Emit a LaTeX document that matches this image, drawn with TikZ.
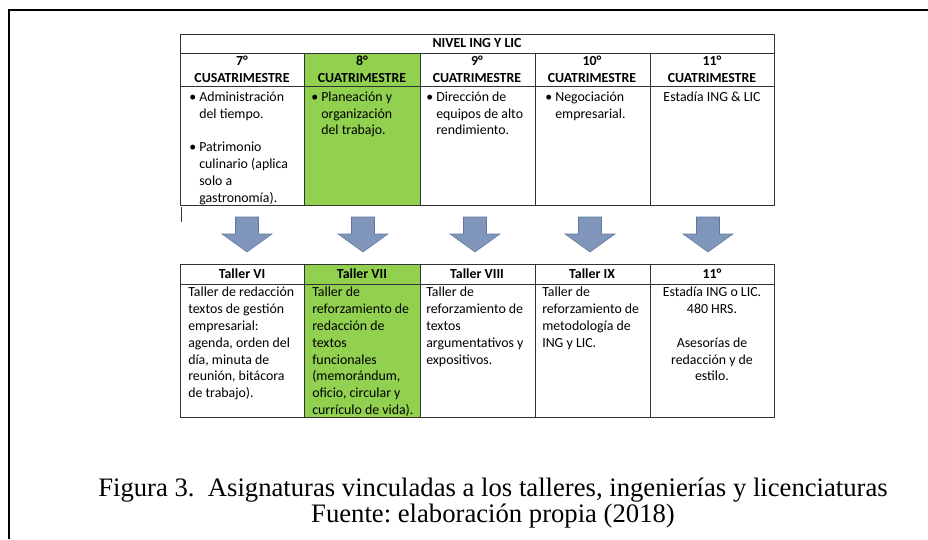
\documentclass[tikz,border=0pt]{standalone}
\usepackage{fontspec}
\setmainfont{Carlito}
\newfontfamily\capfont{Liberation Serif}
\usetikzlibrary{positioning}
\definecolor{lime}{RGB}{146,208,80}
\definecolor{steel}{RGB}{127,150,186}
\definecolor{steeldark}{RGB}{96,120,160}
\definecolor{gridline}{RGB}{50,50,50}
\newcommand{\ind}{\phantom{\textbullet\ }}
\frenchspacing
\tikzset{
  cellbox/.style={draw=gridline,line width=0.75pt},
  hdr/.style={font=\fontsize{10.4}{12.75}\selectfont\bfseries,align=center,inner sep=0pt},
  body/.style={font=\fontsize{10.4}{12.6}\selectfont,align=left,anchor=north west,inner sep=0pt},
  bodyc/.style={body,align=center,anchor=north},
  downarrow/.style={fill=steel,draw=steeldark,line width=0.4pt}
}

\begin{document}
\begin{tikzpicture}[x=0.75pt,y=-0.75pt]
        \useasboundingbox (0,0) rectangle (928,539);
        \draw[line width=1.5pt] (9,539) -- (9,10) -- (928,10);
        \fill[lime] (304,53) rectangle (420,205);
        \fill[lime] (304,264) rectangle (420,417);
        \draw[cellbox] (180,34) rectangle (774,205);
        \draw[cellbox] (180,53) -- (774,53) (180,86) -- (774,86);
        \draw[cellbox] (180,264) rectangle (774,417);
        \draw[cellbox] (180,284) -- (774,284);
        \foreach \x in {304,420,535,650} {
          \draw[cellbox] (\x,53) -- (\x,205);
          \draw[cellbox] (\x,264) -- (\x,417);
        }
        \draw[gridline,line width=0.5pt] (181,207) -- (181,222);
        \node[hdr] (nivel) at (477,43.5) {NIVEL ING Y LIC};
        \foreach \x/\n/\t in {242/h1/7°\\CUSATRIMESTRE,362/h2/8°\\CUATRIMESTRE,477/h3/9°\\CUATRIMESTRE,592/h4/10°\\CUATRIMESTRE,712/h5/11°\\CUATRIMESTRE}
          \node[hdr] (\n) at (\x,69.5) {\t};
        \node[body] (b1) at (189,91.5) {\textbullet\ Administración\\\ind del tiempo.\\\mbox{}\\\textbullet\ Patrimonio\\\ind culinario (aplica\\\ind solo a\\\ind gastronomía).};
        \node[body] (b2) at (311,91.5) {\textbullet\ Planeación y\\\ind organización\\\ind del trabajo.};
        \node[body] (b3) at (426,91.5) {\textbullet\ Dirección de\\\ind equipos de alto\\\ind rendimiento.};
        \node[body] (b4) at (545,91.5) {\textbullet\ Negociación\\\ind empresarial.};
        \node[bodyc] (b5) at (712,91.5) {Estadía ING \& LIC};
        \foreach \cx in {247,363,475,590,708}
          \draw[downarrow] (\cx-11.5,217) -- (\cx+11.5,217) -- (\cx+11.5,234) -- (\cx+25,234)
            -- (\cx,252) -- (\cx-25,234) -- (\cx-11.5,234) -- cycle;
        \foreach \x/\n/\t in {242/t1/Taller VI,362/t2/Taller VII,477/t3/Taller VIII,592/t4/Taller IX,712/t5/11°}
          \node[hdr] (\n) at (\x,274) {\t};
        \node[body] (w1) at (188,287) {Taller de redacción\\textos de gestión\\empresarial:\\agenda, orden del\\día, minuta de\\reunión, bitácora\\de trabajo).};
        \node[body] (w2) at (312,287) {Taller de\\reforzamiento de\\redacción de\\textos\\funcionales\\(memorándum,\\oficio, circular y\\currículo de vida).};
        \node[body] (w3) at (426,287) {Taller de\\reforzamiento de\\textos\\argumentativos y\\expositivos.};
        \node[body] (w4) at (542,287) {Taller de\\reforzamiento de\\metodología de\\ING y LIC.};
        \node[bodyc] (w5) at (712,287) {Estadía ING o LIC.\\480 HRS.\\\mbox{}\\Asesorías de\\redacción y de\\estilo.};
        \node[font=\capfont\fontsize{20}{19.5}\selectfont,align=center,inner sep=0pt] (caption) at (493,503) {Figura 3.\ \ Asignaturas vinculadas a los talleres, ingenierías y licenciaturas\\Fuente: elaboración propia (2018)};
      \end{tikzpicture}
\end{document}
